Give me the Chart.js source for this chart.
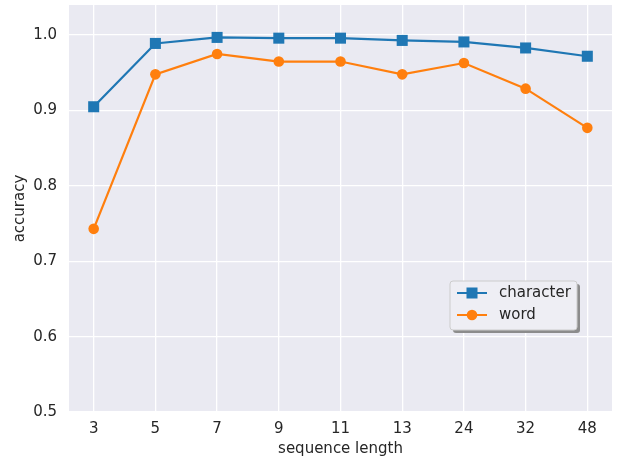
<!DOCTYPE html>
<html>
<head>
<meta charset="utf-8">
<script src="https://cdn.jsdelivr.net/npm/chart.js@4.4.1/dist/chart.umd.min.js"></script>
<style>
  html, body { margin: 0; padding: 0; background: #ffffff; }
  #wrap { width: 619px; height: 460px; position: relative; }
</style>
</head>
<body>
<div id="wrap"><canvas id="chart"></canvas></div>
<script>
// Данные графика
const categories = ['3', '5', '7', '9', '11', '13', '24', '32', '48'];
const characterAcc = [0.905, 0.989, 0.997, 0.996, 0.996, 0.993, 0.991, 0.983, 0.972];
const wordAcc = [0.743, 0.948, 0.975, 0.965, 0.965, 0.948, 0.963, 0.929, 0.877];
const yTicks = [0.5, 0.6, 0.7, 0.8, 0.9, 1.0];

const FONT = "'DejaVu Sans', sans-serif";
const FONT_SIZE = 15;
const TEXT = '#262626';
const BLUE = '#1f77b4';
const ORANGE = '#ff7f0e';

const toPoints = (arr) => arr.map((v, i) => ({ x: i, y: v }));

// Фон области графика в стиле seaborn
const bgPlugin = {
    id: 'plotBg',
    beforeDraw(chart) {
        const { ctx, chartArea: a } = chart;
        ctx.save();
        ctx.fillStyle = '#eaeaf2';
        ctx.fillRect(a.left, a.top, a.right - a.left, a.bottom - a.top);
        ctx.restore();
    }
};

// Легенда в стиле matplotlib (с тенью)
const legendPlugin = {
    id: 'mplLegend',
    afterDraw(chart) {
        const { ctx } = chart;
        const x = 450, y = 281, w = 127, h = 49;
        const roundRect = (px, py) => {
            ctx.beginPath();
            ctx.roundRect(px, py, w, h, 3);
        };
        ctx.save();
        ctx.fillStyle = '#8c8c8c';
        roundRect(x + 3, y + 3);
        ctx.fill();
        ctx.fillStyle = '#eeeef4';
        ctx.strokeStyle = '#cccccc';
        ctx.lineWidth = 1;
        roundRect(x, y);
        ctx.fill();
        ctx.stroke();

        const items = [
            { label: 'character', color: BLUE, style: 'rect', cy: 293 },
            { label: 'word', color: ORANGE, style: 'circle', cy: 315 }
        ];
        items.forEach(it => {
            ctx.strokeStyle = it.color;
            ctx.lineWidth = 2;
            ctx.beginPath();
            ctx.moveTo(457, it.cy);
            ctx.lineTo(487, it.cy);
            ctx.stroke();
            ctx.fillStyle = it.color;
            if (it.style === 'rect') {
                ctx.fillRect(472 - 5.5, it.cy - 5.5, 11, 11);
            } else {
                ctx.beginPath();
                ctx.arc(472, it.cy, 5.3, 0, Math.PI * 2);
                ctx.fill();
            }
            ctx.fillStyle = TEXT;
            ctx.font = `${FONT_SIZE}px ${FONT}`;
            ctx.textBaseline = 'middle';
            ctx.textAlign = 'left';
            ctx.fillText(it.label, 499, it.cy);
        });
        ctx.restore();
    }
};

new Chart(document.getElementById('chart'), {
    type: 'line',
    data: {
        datasets: [
            {
                label: 'character',
                data: toPoints(characterAcc),
                borderColor: BLUE,
                backgroundColor: BLUE,
                borderWidth: 2.2,
                pointStyle: 'rect',
                pointRadius: 7.8,
                pointHoverRadius: 7.8,
                pointBorderWidth: 0,
                tension: 0
            },
            {
                label: 'word',
                data: toPoints(wordAcc),
                borderColor: ORANGE,
                backgroundColor: ORANGE,
                borderWidth: 2.2,
                pointStyle: 'circle',
                pointRadius: 5.3,
                pointHoverRadius: 5.3,
                pointBorderWidth: 0,
                tension: 0
            }
        ]
    },
    options: {
        responsive: true,
        maintainAspectRatio: false,
        animation: false,
        events: [],
        layout: { autoPadding: false, padding: { left: 0, right: 7, top: 5, bottom: 0 } },
        plugins: {
            legend: { display: false },
            tooltip: { enabled: false }
        },
        scales: {
            x: {
                type: 'linear',
                min: -0.4,
                max: 8.4,
                afterBuildTicks: (axis) => {
                    axis.ticks = categories.map((_, i) => ({ value: i }));
                },
                afterFit: (axis) => {
                    axis.height = 48;
                    axis.paddingLeft = 0;
                    axis.paddingRight = 0;
                },
                grid: { color: '#ffffff', lineWidth: 1.3, drawTicks: false },
                border: { display: false },
                ticks: {
                    color: TEXT,
                    font: { family: FONT, size: FONT_SIZE },
                    padding: 8,
                    maxRotation: 0,
                    autoSkip: false,
                    callback: (value) => categories[value]
                },
                title: {
                    display: true,
                    text: 'sequence length',
                    color: TEXT,
                    font: { family: FONT, size: FONT_SIZE },
                    padding: { top: 2, bottom: 2 }
                }
            },
            y: {
                min: 0.5,
                max: 1.04,
                afterBuildTicks: (axis) => {
                    axis.ticks = yTicks.map(v => ({ value: v }));
                },
                afterFit: (axis) => {
                    axis.width = 69;
                    axis.paddingTop = 0;
                    axis.paddingBottom = 0;
                },
                grid: { color: '#ffffff', lineWidth: 1.3, drawTicks: false },
                border: { display: false },
                ticks: {
                    color: TEXT,
                    font: { family: FONT, size: FONT_SIZE },
                    padding: 12,
                    callback: (value) => value.toFixed(1)
                },
                title: {
                    display: true,
                    text: 'accuracy',
                    color: TEXT,
                    font: { family: FONT, size: FONT_SIZE },
                    padding: { top: 11, bottom: 0 }
                }
            }
        }
    },
    plugins: [bgPlugin, legendPlugin]
});
</script>
</body>
</html>
